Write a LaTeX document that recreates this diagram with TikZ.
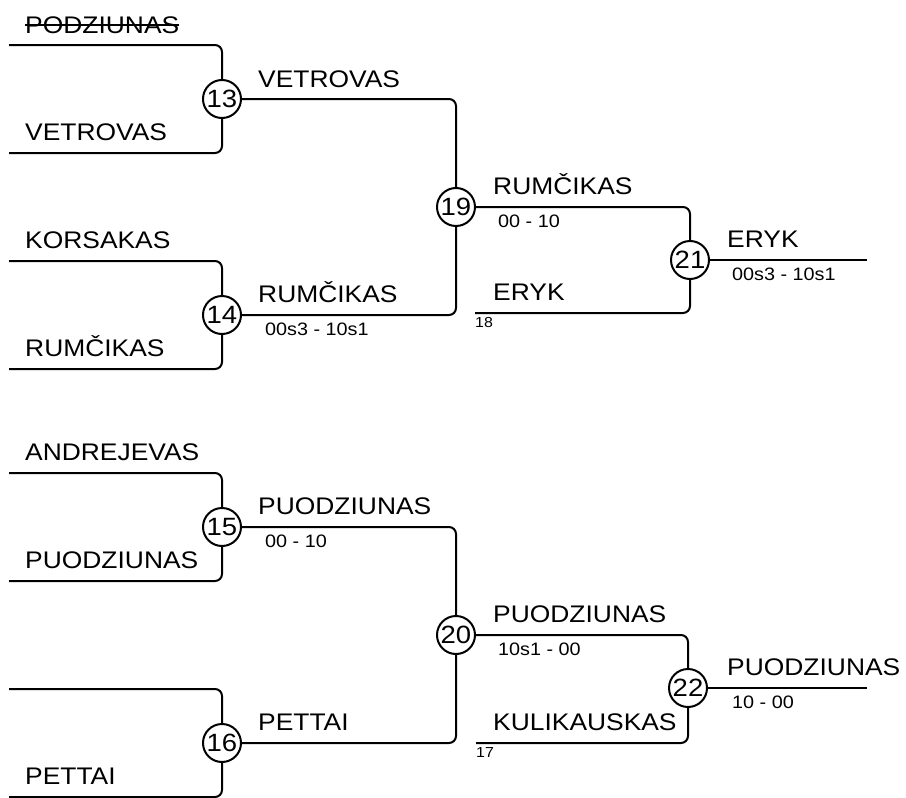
\documentclass[tikz,border=0pt]{standalone}
\usepackage{fontspec}
\setmainfont{Liberation Sans}[FakeStretch=1.1]
\newcommand{\bigtxt}{\fontsize{24}{28}\selectfont}
\newcommand{\numtxt}{\fontsize{25}{28}\selectfont}
\newcommand{\smalltxt}{\fontsize{18}{21}\selectfont}
\newcommand{\tinytxt}{\fontsize{14.5}{17}\selectfont}
\tikzset{
  br/.style={line width=2pt, rounded corners=7pt},
  match/.style={circle, draw, line width=2pt, fill=white, inner sep=0pt, minimum size=38pt, font=\numtxt},
  pname/.style={anchor=base west, inner sep=0pt, font=\bigtxt},
  score/.style={anchor=base west, inner sep=0pt, font=\smalltxt},
  seed/.style={anchor=base west, inner sep=0pt, font=\tinytxt},
}
\begin{document}
\begin{tikzpicture}[x=1pt, y=-1pt]
\useasboundingbox (0,0) rectangle (906,798);
% ---------- coordinates ----------
\coordinate (a1) at (9,45);
\coordinate (a2) at (9,153);
\coordinate (a3) at (9,261);
\coordinate (a4) at (9,369);
\coordinate (a5) at (9,473);
\coordinate (a6) at (9,581);
\coordinate (a7) at (9,689);
\coordinate (a8) at (9,797);
\coordinate (c18) at (475,313);
\coordinate (c17) at (476,743);
\coordinate (e21) at (867,260);
\coordinate (e22) at (867,688);
% ---------- match circles ----------
\node[match] (m13) at (222,99) {13};
\node[match] (m14) at (222,315) {14};
\node[match] (m15) at (222,527) {15};
\node[match] (m16) at (222,743) {16};
\node[match] (m19) at (456,207) {19};
\node[match] (m20) at (456,635) {20};
\node[match] (m21) at (690,260) {21};
\node[match] (m22) at (688,688) {22};
% ---------- bracket lines ----------
\draw[br] (a1) -| (m13.north);
\draw[br] (a2) -| (m13.south);
\draw[br] (a3) -| (m14.north);
\draw[br] (a4) -| (m14.south);
\draw[br] (a5) -| (m15.north);
\draw[br] (a6) -| (m15.south);
\draw[br] (a7) -| (m16.north);
\draw[br] (a8) -| (m16.south);
\draw[br] (m13.east) -| (m19.north);
\draw[br] (m14.east) -| (m19.south);
\draw[br] (m15.east) -| (m20.north);
\draw[br] (m16.east) -| (m20.south);
\draw[br] (m19.east) -| (m21.north);
\draw[br] (c18) -| (m21.south);
\draw[br] (m20.east) -| (m22.north);
\draw[br] (c17) -| (m22.south);
\draw[br] (m21.east) -- (e21);
\draw[br] (m22.east) -- (e22);
% ---------- round 1 names ----------
\node[pname] (pod) at (25,33) {PODZIUNAS};
\draw[line width=1.5pt] ([yshift=8pt]pod.base west) -- ([yshift=8pt]pod.base east);
\node[pname] (n2) at (25,140) {VETROVAS};
\node[pname] (n3) at (25,248) {KORSAKAS};
\node[pname] (n4) at (25,356) {RUMČIKAS};
\node[pname] (n5) at (25,460) {ANDREJEVAS};
\node[pname] (n6) at (25,568) {PUODZIUNAS};
\node[pname] (n8) at (25,784) {PETTAI};
% ---------- round 2 ----------
\node[pname] (w13) at (258,87) {VETROVAS};
\node[pname] (w14) at (258,302) {RUMČIKAS};
\node[score] (s14) at (265,335) {00s3 - 10s1};
\node[pname] (w15) at (258,514) {PUODZIUNAS};
\node[score] (s15) at (265,547) {00 - 10};
\node[pname] (w16) at (258,730) {PETTAI};
% ---------- round 3 ----------
\node[pname] (w19) at (493,194) {RUMČIKAS};
\node[score] (s19) at (498,227) {00 - 10};
\node[pname] (w18) at (493,300) {ERYK};
\node[seed] (l18) at (475,327) {18};
\node[pname] (w20) at (493,622) {PUODZIUNAS};
\node[score] (s20) at (498,655) {10s1 - 00};
\node[pname] (w17) at (493,730) {KULIKAUSKAS};
\node[seed] (l17) at (476,757) {17};
% ---------- finals ----------
\node[pname] (w21) at (727,247) {ERYK};
\node[score] (s21) at (732,280) {00s3 - 10s1};
\node[pname] (w22) at (727,675) {PUODZIUNAS};
\node[score] (s22) at (732,708) {10 - 00};
\end{tikzpicture}
\end{document}
